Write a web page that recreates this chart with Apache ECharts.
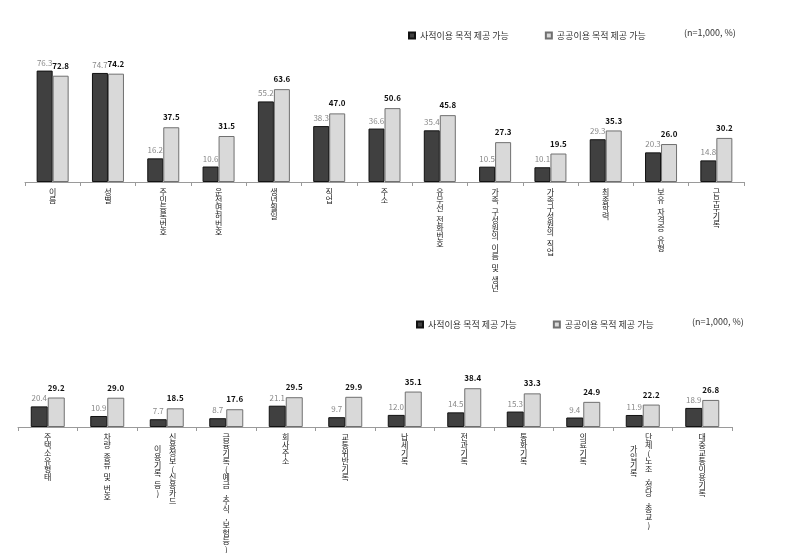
<!DOCTYPE html>
<html>
<head>
<meta charset="utf-8">
<script src="https://cdn.jsdelivr.net/npm/echarts@6/dist/echarts.min.js"></script>
<style>
  html, body { margin: 0; padding: 0; background: #fff; }
  #chart { width: 787px; height: 553px; }
</style>
</head>
<body>
<div id="chart"></div>
<script>
const FONT = '"Noto Sans CJK KR", "Noto Sans", sans-serif';
const SERIES_NAMES = ['사적이용 목적 제공 가능', '공공이용 목적 제공 가능'];
const NOTE = '(n=1,000, %)';

// '|' splits a label into a second (left) column
const topCategories = ['이름', '성별', '주민등록번호', '운전면허번호', '생년월일', '직업', '주소',
  '유무선 전화번호', '가족 구성원의 이름 및 생년', '가족구성원의 직업', '최종학력', '보유 자격증 유형', '근무부기록'];
const topPrivate = [76.3, 74.7, 16.2, 10.6, 55.2, 38.3, 36.6, 35.4, 10.5, 10.1, 29.3, 20.3, 14.8];
const topPublic  = [72.8, 74.2, 37.5, 31.5, 63.6, 47.0, 50.6, 45.8, 27.3, 19.5, 35.3, 26.0, 30.2];

const bottomCategories = ['주택소유형태', '차량 종류 및 번호', '신용정보(신용카드|이용기록 등)',
  '금융기록(예금,주식,보험등)', '회사주소', '교통위반기록', '납세기록', '전과기록', '통화기록',
  '의료기록', '단체(노조,정당,종교)|가입기록', '대중교통이용기록'];
const bottomPrivate = [20.4, 10.9, 7.7, 8.7, 21.1, 9.7, 12.0, 14.5, 15.3, 9.4, 11.9, 18.9];
const bottomPublic  = [29.2, 29.0, 18.5, 17.6, 29.5, 29.9, 35.1, 38.4, 33.3, 24.9, 22.2, 26.8];

const DARK = '#404040';
const LIGHT = '#d9d9d9';
const GLYPH = { fontSize: 8, lineHeight: 8, color: '#222', fontFamily: FONT };

// one character per line, like stacked text in the original
function stack(text, key) {
  if (!text) return '';
  return text.split('').map(ch => ch === ' ' ? '{s| }' : '{' + key + '|' + ch + '}').join('\n');
}

function catAxis(grid, data, second, rich) {
  return {
    type: 'category', gridIndex: grid, data, position: 'bottom',
    axisLine: { show: !second, lineStyle: { color: '#9a9a9a', width: 1 } },
    axisTick: { show: !second, length: 4, lineStyle: { color: '#9a9a9a' } },
    axisLabel: {
      interval: 0, rotate: 0, margin: second ? 18 : 6,
      hideOverlap: false,
      formatter: v => {
        const p = v.split('|');
        if (second) return stack(p[1], 'r');
        return stack(p[0], p.length > 1 ? 'r' : 'c');
      },
      rich,
    },
    splitLine: { show: false },
  };
}

function valAxis(grid) {
  return { type: 'value', gridIndex: grid, min: 0, max: 100, show: false, splitLine: { show: false } };
}

function bars(name, data, xi, yi, width, dark) {
  return {
    name, type: 'bar', data, xAxisIndex: xi, yAxisIndex: yi,
    barWidth: width, barGap: '0%',
    itemStyle: dark
      ? { color: DARK, borderColor: '#111', borderWidth: 1 }
      : { color: LIGHT, borderColor: '#707070', borderWidth: 1 },
    label: {
      show: true, position: 'top', distance: dark ? 4 : 6,
      fontSize: 8, fontFamily: FONT,
      color: dark ? '#888' : '#111', fontWeight: dark ? 'normal' : 'bold',
      formatter: p => p.value.toFixed(1),
    },
  };
}

const chart = echarts.init(document.getElementById('chart'), null, { renderer: 'canvas' });

const topMain = catAxis(0, topCategories, false, {
  c: GLYPH, s: { fontSize: 4, lineHeight: 4 },
});
const bottomMain = catAxis(1, bottomCategories, false, {
  c: GLYPH, r: { ...GLYPH, padding: [0, 0, 0, 12] }, s: { fontSize: 4, lineHeight: 4 },
});
const bottomSub = catAxis(1, bottomCategories, true, {
  r: { ...GLYPH, padding: [0, 18, 0, 0] }, s: { fontSize: 4, lineHeight: 4 },
});

const legendBase = {
  icon: 'rect', itemWidth: 6, itemHeight: 6, itemGap: 36,
  textStyle: { fontSize: 9, color: '#333', fontFamily: FONT },
  data: SERIES_NAMES,
};

chart.setOption({
  animation: false,
  textStyle: { fontFamily: FONT },
  title: [
    { text: NOTE, left: 679, top: 23, textStyle: { fontSize: 9, fontWeight: 'normal', color: '#333', fontFamily: FONT } },
    { text: NOTE, left: 687, top: 312, textStyle: { fontSize: 9, fontWeight: 'normal', color: '#333', fontFamily: FONT } },
  ],
  legend: [
    { ...legendBase, left: 403, top: 26 },
    { ...legendBase, left: 411, top: 315 },
  ],
  grid: [
    { left: 25, right: 43, top: 36, height: 146 },
    { left: 18, right: 55, top: 326, height: 120 },
  ],
  xAxis: [topMain, bottomMain, bottomSub],
  yAxis: [valAxis(0), valAxis(1)],
  series: [
    bars(SERIES_NAMES[0], topPrivate, 0, 0, 16, true),
    bars(SERIES_NAMES[1], topPublic, 0, 0, 16, false),
    bars(SERIES_NAMES[0], bottomPrivate, 1, 1, 17, true),
    bars(SERIES_NAMES[1], bottomPublic, 1, 1, 17, false),
  ],
});
</script>
</body>
</html>
